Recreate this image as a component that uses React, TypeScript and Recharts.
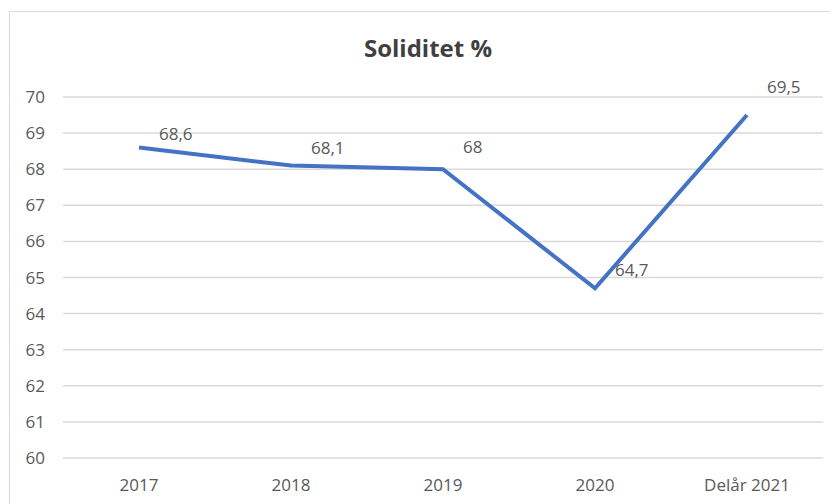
import { LineChart, Line, XAxis, YAxis, CartesianGrid, LabelList } from "recharts";

const years = ["2017", "2018", "2019", "2020", "Delår 2021"];
const soliditet = [68.6, 68.1, 68, 64.7, 69.5];
const yTicks = [60, 61, 62, 63, 64, 65, 66, 67, 68, 69, 70];

const data = years.map((year, i) => ({ year, value: soliditet[i] }));

// Excel-like label placement, nudged per point
const labelDy = [-8, -12, -16, -12, -22];

const font = "Open Sans, sans-serif";

const ValueLabel = (props: any) => {
  const { x, y, value, index } = props;
  return (
    <text
      x={x + 20}
      y={y + labelDy[index]}
      fill="#595959"
      fontSize={17}
      fontFamily={font}
      textAnchor="start"
    >
      {String(value).replace(".", ",")}
    </text>
  );
};

export default function App() {
  return (
    <div
      style={{
        position: "relative",
        width: 830,
        height: 496,
        marginTop: 3,
        marginLeft: 1,
        border: "1px solid #d9d9d9",
        boxSizing: "border-box",
        background: "#fff",
      }}
    >
      <div
        style={{
          position: "absolute",
          top: 19,
          left: 0,
          width: "100%",
          textAlign: "center",
          fontFamily: font,
          fontWeight: 700,
          fontSize: 24,
          color: "#404040",
          paddingLeft: 8,
          boxSizing: "border-box",
        }}
      >
        Soliditet %
      </div>
      <LineChart
        width={830}
        height={496}
        data={data}
        margin={{ top: 89, right: 16, left: -2, bottom: 0 }}
        style={{ position: "absolute", top: -4, left: -1 }}
      >
        <CartesianGrid vertical={false} stroke="#d9d9d9" strokeWidth={1.5} />
        <XAxis
          dataKey="year"
          axisLine={false}
          tickLine={false}
          height={46}
          tickMargin={15}
          interval={0}
          padding={{ left: 76, right: 76 }}
          tick={{ fill: "#595959", fontSize: 17, fontFamily: font }}
        />
        <YAxis
          domain={[60, 70]}
          ticks={yTicks}
          interval={0}
          axisLine={false}
          tickLine={false}
          width={56}
          tickMargin={12}
          tick={{ fill: "#595959", fontSize: 17, fontFamily: font }}
        />
        <Line
          type="linear"
          dataKey="value"
          stroke="#4472C4"
          strokeWidth={4}
          dot={false}
          isAnimationActive={false}
        >
          <LabelList dataKey="value" content={<ValueLabel />} />
        </Line>
      </LineChart>
    </div>
  );
}
